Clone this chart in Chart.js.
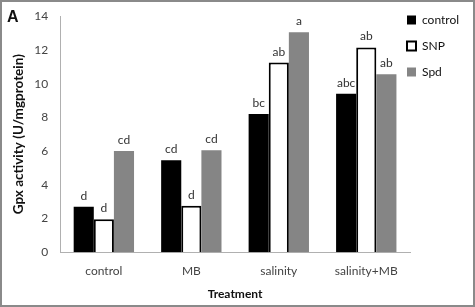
<!DOCTYPE html>
<html>
<head>
<meta charset="utf-8">
<script src="https://cdn.jsdelivr.net/npm/chart.js@4/dist/chart.umd.min.js"></script>
<style>
  html, body { margin: 0; padding: 0; background: #fff; }
  #wrap { width: 475px; height: 307px; box-sizing: border-box; border: 2px solid #8a8a8a; position: relative; }
  #lbl { position: absolute; left: 5px; top: 6px; font: bold 16px "Liberation Sans", Arial, sans-serif; color: #111; }
</style>
</head>
<body>
<div id="wrap">
  <canvas id="myChart" width="471" height="303"></canvas>
  <div id="lbl">A</div>
</div>
<script>
// chart data
var treatments = ['control', 'MB', 'salinity', 'salinity+MB'];
var controlVals = [2.7, 5.45, 8.2, 9.4];
var snpVals = [1.95, 2.75, 11.25, 12.15];
var spdVals = [6.0, 6.05, 13.05, 10.55];
// significance letters over each bar
var controlLetters = ['d', 'cd', 'bc', 'abc'];
var snpLetters = ['d', 'd', 'ab', 'ab'];
var spdLetters = ['cd', 'cd', 'a', 'ab'];
var yTicks = [0, 2, 4, 6, 8, 10, 12, 14];

var font = 'Lato, "DejaVu Sans", sans-serif';

// draws the letters above the bars
var letterPlugin = {
  id: 'letters',
  afterLayout: function (chart) {
    // legend sits at the top right corner, overlapping the plot edge like the original
    chart.legend.left = 391;
    chart.legend.top = -2;
  },
  afterDatasetsDraw: function (chart) {
    var ctx = chart.ctx;
    ctx.save();
    ctx.font = '12px ' + font;
    ctx.fillStyle = '#333';
    ctx.textAlign = 'center';
    ctx.textBaseline = 'alphabetic';
    chart.data.datasets.forEach(function (ds, i) {
      var meta = chart.getDatasetMeta(i);
      meta.data.forEach(function (bar, j) {
        ctx.fillText(ds.letters[j], bar.x, bar.y - 7);
      });
    });
    ctx.restore();
  }
};

const ctx = document.getElementById('myChart');

new Chart(ctx, {
  type: 'bar',
  data: {
    labels: treatments,
    datasets: [
      { label: 'control', data: controlVals, letters: controlLetters, backgroundColor: '#000', borderWidth: 0 },
      { label: 'SNP', data: snpVals, letters: snpLetters, backgroundColor: '#fff', borderColor: '#000', borderWidth: 2 },
      { label: 'Spd', data: spdVals, letters: spdLetters, backgroundColor: '#858585', borderWidth: 0 }
    ]
  },
  options: {
    responsive: false,
    animation: false,
    categoryPercentage: 0.69,
    barPercentage: 1,
    layout: { padding: { top: 0, right: 2, bottom: 2, left: 3 } },
    plugins: {
      legend: {
        position: 'right',
        align: 'start',
        maxWidth: 61,
        labels: {
          boxWidth: 9,
          boxHeight: 9,
          padding: 14,
          color: '#111',
          font: { family: font, size: 12 }
        }
      },
      tooltip: { enabled: false }
    },
    scales: {
      x: {
        grid: { display: false, drawTicks: true, tickLength: 5, color: '#b0b0b0' },
        border: { color: '#b0b0b0' },
        ticks: { color: '#444', font: { family: font, size: 12 }, padding: 7 },
        title: { display: true, text: 'Treatment', color: '#111', font: { family: font, size: 12, weight: 'bold' }, padding: { top: 1, bottom: 2 } }
      },
      y: {
        min: 0,
        max: 14,
        afterBuildTicks: function (axis) {
          axis.ticks = yTicks.map(function (v) { return { value: v }; });
        },
        grid: { display: false, drawTicks: true, tickLength: 5, color: '#b0b0b0' },
        border: { color: '#b0b0b0' },
        ticks: { color: '#444', font: { family: font, size: 12 }, padding: 7 },
        title: { display: true, text: 'Gpx activity (U/mgprotein)', color: '#111', font: { family: font, size: 13.5, weight: 'bold' }, padding: { top: 6, bottom: 0 } }
      }
    }
  },
  plugins: [letterPlugin]
});
</script>
</body>
</html>
